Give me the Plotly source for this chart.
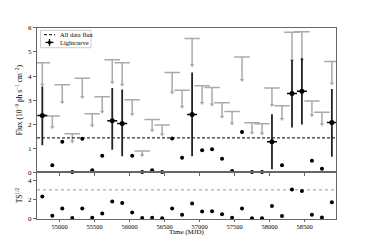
import plotly.graph_objects as go

# ---- data ----
time_mjd = [54753, 54896, 55038, 55181, 55324, 55466, 55609, 55752, 55894, 56037,
            56180, 56322, 56465, 56608, 56750, 56893, 57036, 57178, 57321, 57464,
            57606, 57749, 57892, 58034, 58177, 58320, 58462, 58605, 58748, 58890]
bin_half_width = [71.3] * 30
upper_limit = [4.55, 2.34, 3.64, 1.60, 3.91, 2.43, 3.14, 4.68, 4.55, 3.02,
               0.88, 2.19, 1.97, 4.15, 3.41, 5.56, 3.60, 3.52, 2.89, 2.53,
               4.79, 2.06, 2.02, 3.50, 2.77, 5.82, 5.84, 2.96, 2.50, 4.61]
flux = [2.36, 0.29, 1.27, 0.01, 1.39, 0.08, 0.69, 2.14, 2.03, 0.69,
        0.01, 0.09, 0.01, 1.40, 0.60, 2.40, 0.92, 0.96, 0.56, 0.05,
        1.67, 0.01, 0.01, 1.27, 0.29, 3.28, 3.37, 0.48, 0.15, 2.07]
detected = [1, 0, 0, 0, 0, 0, 0, 1, 1, 0,
            0, 0, 0, 0, 0, 1, 0, 0, 0, 0,
            0, 0, 0, 1, 0, 1, 1, 0, 0, 1]
err_hi = [1.21, 0, 0, 0, 0, 0, 0, 1.36, 1.41, 0,
          0, 0, 0, 0, 0, 1.75, 0, 0, 0, 0,
          0, 0, 0, 1.14, 0, 1.39, 1.38, 0, 0, 1.39]
err_lo = [1.24, 0, 0, 0, 0, 0, 0, 1.20, 1.36, 0,
          0, 0, 0, 0, 0, 1.73, 0, 0, 0, 0,
          0, 0, 0, 1.14, 0, 1.42, 1.38, 0, 0, 1.42]
ts_sqrt = [2.32, 0.30, 1.07, 0.07, 1.07, 0.10, 0.54, 1.78, 1.64, 0.64,
           0.07, 0.10, 0.05, 1.07, 0.40, 1.58, 0.74, 0.77, 0.47, 0.10,
           1.07, 0.05, 0.05, 1.31, 0.27, 3.05, 2.88, 0.40, 0.13, 1.71]
all_data_flux = 1.43
ts_threshold = 3.0
x_range = [54677, 58949]
x_ticks = [55000, 55500, 56000, 56500, 57000, 57500, 58000, 58500]
x_ticktext = ["55000", "55500", "56000", "56500", "57000", "57500", "58000", "58500"]
legend_labels = ["All data flux", "Lightcurve"]

FONT = "Liberation Serif, DejaVu Serif, serif"
GRAY = "#aaaaaa"
# the page body has an 8px margin: the figure starts at page (8, 8)
OFF = 8
W, H = 374 - 2 * OFF, 249 - 2 * OFF


def px(x):
    return (x - OFF) / W


def py(y):
    return 1 - (y - OFF) / H


fig = go.Figure()

# upper limits: cap at the limit, line down 20%, arrow head at bottom
ul_arrow = [0.2 * u for u in upper_limit]
fig.add_trace(go.Scatter(
    x=time_mjd, y=upper_limit, mode="markers",
    marker=dict(symbol="line-ew", size=11, line=dict(color=GRAY, width=1.5)),
    error_y=dict(type="data", symmetric=False, array=[0] * 30, arrayminus=ul_arrow,
                 color=GRAY, thickness=1.5, width=0),
    showlegend=False, hoverinfo="skip", xaxis="x", yaxis="y"))
fig.add_trace(go.Scatter(
    x=time_mjd, y=[u - a for u, a in zip(upper_limit, ul_arrow)], mode="markers",
    marker=dict(symbol="triangle-down", size=4, color=GRAY),
    showlegend=False, hoverinfo="skip", xaxis="x", yaxis="y"))

# non-detections: plain flux dots
nd_x = [t for t, d in zip(time_mjd, detected) if not d]
nd_y = [f for f, d in zip(flux, detected) if not d]
fig.add_trace(go.Scatter(
    x=nd_x, y=nd_y, mode="markers", marker=dict(size=4, color="black"),
    showlegend=False, cliponaxis=False, xaxis="x", yaxis="y"))

# all-data flux line
fig.add_trace(go.Scatter(
    x=x_range, y=[all_data_flux, all_data_flux], mode="lines",
    line=dict(color="black", width=1, dash="3px,2px"),
    name=legend_labels[0], showlegend=False, xaxis="x", yaxis="y"))

# detections
d_x = [t for t, d in zip(time_mjd, detected) if d]
d_y = [f for f, d in zip(flux, detected) if d]
d_hi = [e for e, d in zip(err_hi, detected) if d]
d_lo = [e for e, d in zip(err_lo, detected) if d]
d_xe = [w for w, d in zip(bin_half_width, detected) if d]
fig.add_trace(go.Scatter(
    x=d_x, y=d_y, mode="markers", marker=dict(size=5, color="black"),
    error_y=dict(type="data", symmetric=False, array=d_hi, arrayminus=d_lo,
                 color="#222222", thickness=1.8, width=0),
    error_x=dict(type="data", array=d_xe, color="black", thickness=1.5, width=0),
    name=legend_labels[1], showlegend=False, xaxis="x", yaxis="y"))

# TS panel
fig.add_trace(go.Scatter(
    x=x_range, y=[ts_threshold, ts_threshold], mode="lines",
    line=dict(color="#999999", width=1, dash="dot"),
    showlegend=False, xaxis="x2", yaxis="y2"))
fig.add_trace(go.Scatter(
    x=time_mjd, y=ts_sqrt, mode="markers", marker=dict(size=4, color="black"),
    showlegend=False, cliponaxis=False, xaxis="x2", yaxis="y2"))

# hand-drawn compact legend (matplotlib style)
shapes = [
    dict(type="rect", xref="paper", yref="paper", x0=px(40.5), x1=px(91), y0=py(45), y1=py(27),
         line=dict(color="#cccccc", width=1), fillcolor="white", layer="above"),
    dict(type="line", xref="paper", yref="paper", x0=px(44), x1=px(55), y0=py(31.5), y1=py(31.5),
         line=dict(color="black", width=1, dash="3px,2px"), layer="above"),
    dict(type="line", xref="paper", yref="paper", x0=px(45.5), x1=px(53.5), y0=py(39.5), y1=py(39.5),
         line=dict(color="black", width=1.3), layer="above"),
    dict(type="line", xref="paper", yref="paper", x0=px(49.5), x1=px(49.5), y0=py(36), y1=py(43),
         line=dict(color="black", width=1.3), layer="above"),
    dict(type="circle", xref="paper", yref="paper", x0=px(48), x1=px(51), y0=py(41), y1=py(38),
         line=dict(color="black", width=0.5), fillcolor="black", layer="above"),
]
annotations = [
    dict(text=legend_labels[0], xref="paper", yref="paper", x=px(58), y=py(31.5),
         xanchor="left", yanchor="middle", showarrow=False, font=dict(family=FONT, size=6.5)),
    dict(text=legend_labels[1], xref="paper", yref="paper", x=px(58), y=py(39.5),
         xanchor="left", yanchor="middle", showarrow=False, font=dict(family=FONT, size=6.5)),
    dict(text="Time (MJD)", xref="paper", yref="paper", x=px(186.5), y=0,
         xanchor="center", yanchor="bottom", showarrow=False, borderpad=0,
         font=dict(family=FONT, size=7)),
]

axis_common = dict(showline=True, linecolor="#666666", linewidth=1, mirror=True,
                   ticks="outside", ticklen=3, tickcolor="#666666",
                   showgrid=False, zeroline=False,
                   tickfont=dict(family=FONT, size=7, color="black"))
x2_common = dict(axis_common, ticklen=2, tickfont=dict(family=FONT, size=6.5, color="black"))
fig.update_layout(
    width=W, height=H,
    margin=dict(l=0, r=0, t=0, b=0),
    paper_bgcolor="white", plot_bgcolor="white",
    font=dict(family=FONT, size=8, color="black"),
    showlegend=False,
    shapes=shapes, annotations=annotations,
    xaxis=dict(domain=[px(37), px(336)], range=x_range, tickvals=x_ticks, ticktext=x_ticktext,
               showticklabels=False, anchor="y", **axis_common),
    yaxis=dict(domain=[py(174), py(24.5)], range=[0, 6],
               tickvals=[0, 1, 2, 3, 4, 5, 6], anchor="x",
               title=dict(text="Flux (10<sup>−9</sup> ph s<sup>−1</sup> cm<sup>−2</sup>)",
                          font=dict(family=FONT, size=7.5), standoff=4),
               **axis_common),
    xaxis2=dict(domain=[px(37), px(336)], range=x_range, tickvals=x_ticks, ticktext=x_ticktext,
                anchor="y2", **x2_common),
    yaxis2=dict(domain=[py(222), py(174)], range=[0, 4.83],
                tickvals=[0, 2, 4], anchor="x2",
                title=dict(text="TS<sup>1/2</sup>", font=dict(family=FONT, size=7.5), standoff=4),
                **axis_common),
)

fig.write_html("out.html")
